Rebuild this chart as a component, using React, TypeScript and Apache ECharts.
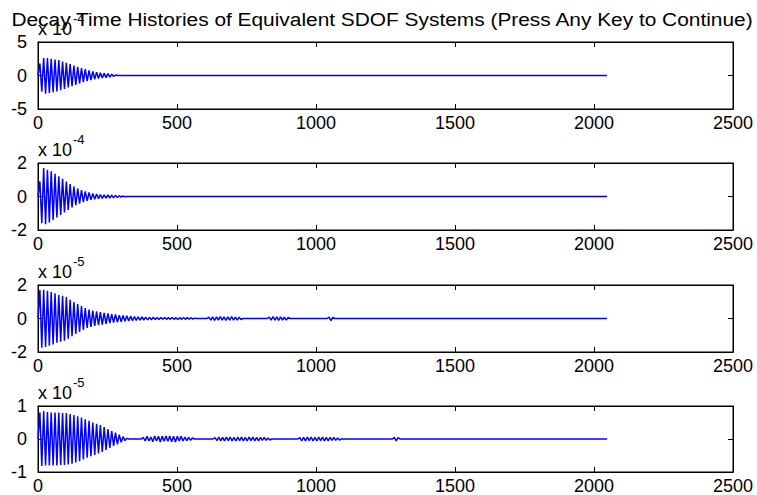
import React, { useEffect, useRef } from "react";
import * as echarts from "echarts";

const TITLE = "Decay Time Histories of Equivalent SDOF Systems (Press Any Key to Continue)";
const X_MIN = 0;
const X_MAX = 2500;
const X_STEP = 500;
const LAST_SAMPLE = 2047;
const HALF_PERIOD = 6.8; // samples between successive peaks
const yMins = [-5, -2, -2, -1];
const yMaxs = [5, 2, 2, 1];
const yIntervals = [5, 2, 2, 1];
const exponents = ["-4", "-4", "-5", "-5"];

// signed peak values (in displayed units) of the main decay of each system
const peaks1 = [0, 1.8, -2.4, 2.6, -2.7, 2.6, -2.6, 2.5, -2.5, 2.4, -2.4, 2.3, -2.2, 2.1, -2.0, 1.9, -1.8, 1.7, -1.6, 1.5, -1.4, 1.3, -1.2, 1.1, -1.0, 0.95, -0.85, 0.75, -0.7, 0.6, -0.55, 0.5, -0.45, 0.42, -0.38, 0.35, -0.32, 0.28, -0.25, 0.2, -0.15, 0.08, 0];
const peaks2 = [0, 0.9, -1.6, 1.7, -1.65, 1.6, -1.55, 1.5, -1.4, 1.35, -1.25, 1.2, -1.1, 1.05, -0.95, 0.9, -0.8, 0.75, -0.65, 0.6, -0.52, 0.48, -0.42, 0.38, -0.33, 0.3, -0.26, 0.24, -0.2, 0.18, -0.16, 0.15, -0.13, 0.12, -0.11, 0.1, -0.1, 0.09, -0.09, 0.08, -0.08, 0.07, -0.06, 0.05, -0.04, 0.03, -0.02, 0];
const peaks3 = [0, 1.7, -1.75, 1.72, -1.7, 1.65, -1.62, 1.58, -1.55, 1.5, -1.45, 1.4, -1.38, 1.35, -1.32, 1.28, -1.2, 1.12, -1.05, 0.98, -0.92, 0.86, -0.8, 0.74, -0.68, 0.62, -0.57, 0.53, -0.5, 0.47, -0.44, 0.42, -0.4, 0.38, -0.36, 0.34, -0.32, 0.3, -0.28, 0.26, -0.25, 0.24, -0.22, 0.2, -0.19, 0.18, -0.17, 0.16, -0.15, 0.14, -0.13, 0.12, -0.11, 0.1, -0.1, 0.09, -0.09, 0.08, -0.08, 0.07, -0.07, 0.07, -0.06, 0.06, -0.06, 0.06, -0.05, 0.06, -0.05, 0.05, -0.05, 0.06, -0.05, 0.05, -0.06, 0.05, -0.05, 0.06, -0.05, 0.05, -0.04, 0.04, -0.03, 0.02, 0];
const peaks4 = [0, 0.8, -0.82, 0.85, -0.8, 0.82, -0.8, 0.8, -0.8, 0.8, -0.8, 0.8, -0.79, 0.79, -0.79, 0.79, -0.77, 0.76, -0.75, 0.73, -0.71, 0.69, -0.67, 0.65, -0.62, 0.6, -0.57, 0.55, -0.52, 0.5, -0.48, 0.46, -0.44, 0.42, -0.39, 0.36, -0.33, 0.3, -0.27, 0.24, -0.21, 0.19, -0.16, 0.13, -0.1, 0.07, -0.05, 0.02, 0];

// later small bursts: start sample and signed peaks
const burst3aStart = 608;
const burst3a = [0.08, -0.1, 0.1, -0.12, 0.1, -0.1, 0.12, -0.1, 0.1, -0.12, 0.1, -0.1, 0.12, -0.1, 0.08, -0.1, 0.08, -0.06];
const burst3bStart = 825;
const burst3b = [0.08, -0.1, 0.12, -0.1, 0.1, -0.12, 0.1, -0.1, 0.08, -0.1, 0.06];
const burst3cStart = 1040;
const burst3c = [0.08, -0.12, 0.06];

const burst4aStart = 372;
const burst4a = [0.05, -0.06, 0.08, -0.06, 0.06, -0.08, 0.09, -0.06, 0.08, -0.09, 0.08, -0.07, 0.09, -0.07, 0.09, -0.08, 0.08, -0.09, 0.08, -0.06, 0.08, -0.06, 0.06, -0.05, 0.05, -0.04, 0.03];
const burst4bStart = 630;
const burst4b = [0.04, -0.05, 0.06, -0.06, 0.05, -0.06, 0.06, -0.05, 0.06, -0.06, 0.05, -0.06, 0.06, -0.05, 0.06, -0.06, 0.05, -0.06, 0.06, -0.05, 0.06, -0.06, 0.05, -0.06, 0.05, -0.04, 0.05, -0.04, 0.03, -0.03];
const burst4cStart = 935;
const burst4c = [0.04, -0.06, 0.05, -0.06, 0.06, -0.05, 0.06, -0.06, 0.05, -0.06, 0.06, -0.05, 0.06, -0.06, 0.05, -0.06, 0.05, -0.04, 0.05, -0.04, 0.03, -0.03];
const burst4dStart = 1275;
const burst4d = [0.05, -0.06, 0.04];

const mains = [peaks1, peaks2, peaks3, peaks4];
const bursts: { start: number; peaks: number[] }[][] = [
  [],
  [],
  [
    { start: burst3aStart, peaks: burst3a },
    { start: burst3bStart, peaks: burst3b },
    { start: burst3cStart, peaks: burst3c },
  ],
  [
    { start: burst4aStart, peaks: burst4a },
    { start: burst4bStart, peaks: burst4b },
    { start: burst4cStart, peaks: burst4c },
    { start: burst4dStart, peaks: burst4d },
  ],
];

function buildSeries(main: number[], bs: { start: number; peaks: number[] }[]) {
  const pts: [number, number][] = main.map((v, i) => [i * HALF_PERIOD, v]);
  bs.forEach((b) => {
    pts.push([b.start, 0]);
    b.peaks.forEach((v, i) => pts.push([b.start + (i + 1) * HALF_PERIOD, v]));
    pts.push([b.start + (b.peaks.length + 1) * HALF_PERIOD, 0]);
  });
  pts.push([LAST_SAMPLE, 0]);
  return pts;
}

const FONT = 'Arial, "Liberation Sans", sans-serif';
const GRID_LEFT = 38;
const GRID_WIDTH = 695;
const GRID_TOPS = [42, 163, 285, 406];
const GRID_HEIGHT = 67;

export default function App() {
  const ref = useRef<HTMLDivElement>(null);
  useEffect(() => {
    if (!ref.current) return;
    const chart = echarts.init(ref.current, undefined, { renderer: "svg" });
    const grids: any[] = [];
    const xAxes: any[] = [];
    const yAxes: any[] = [];
    const series: any[] = [];
    const graphic: any[] = [
      {
        type: "text",
        x: 382,
        y: 20,
        scaleX: 1.16,
        style: { text: TITLE, fontSize: 18, fontFamily: FONT, fill: "#000", align: "center", verticalAlign: "middle" },
      },
    ];
    const axisLine = { show: true, onZero: false, lineStyle: { color: "#000", width: 1 } };
    const axisTick = { show: true, inside: true, length: 5, lineStyle: { color: "#000", width: 1 } };
    const fmt = (v: number) => String(v);
    for (let i = 0; i < 4; i++) {
      grids.push({
        left: GRID_LEFT,
        top: GRID_TOPS[i],
        width: GRID_WIDTH,
        height: GRID_HEIGHT,
        show: true,
        borderColor: "#000",
        borderWidth: 1,
        backgroundColor: "#fff",
      });
      ["bottom", "top"].forEach((pos) => {
        xAxes.push({
          type: "value",
          gridIndex: i,
          position: pos,
          min: X_MIN,
          max: X_MAX,
          interval: X_STEP,
          axisLine,
          axisTick,
          splitLine: { show: false },
          axisLabel: {
            show: pos === "bottom",
            formatter: fmt,
            color: "#000",
            fontSize: 18,
            fontFamily: FONT,
            margin: 5,
            hideOverlap: false,
            showMinLabel: true,
            showMaxLabel: true,
          },
        });
      });
      ["left", "right"].forEach((pos) => {
        yAxes.push({
          type: "value",
          gridIndex: i,
          position: pos,
          min: yMins[i],
          max: yMaxs[i],
          interval: yIntervals[i],
          axisLine,
          axisTick,
          splitLine: { show: false },
          axisLabel: {
            show: pos === "left",
            formatter: fmt,
            color: "#000",
            fontSize: 18,
            fontFamily: FONT,
            margin: 11,
            hideOverlap: false,
            showMinLabel: true,
            showMaxLabel: true,
          },
        });
      });
      series.push({
        type: "line",
        xAxisIndex: 2 * i,
        yAxisIndex: 2 * i,
        data: buildSeries(mains[i], bursts[i]),
        showSymbol: false,
        symbol: "none",
        clip: true,
        lineStyle: { color: "#0000ff", width: 1.5 },
        itemStyle: { color: "#0000ff" },
      });
      graphic.push({
        type: "text",
        x: 38,
        y: GRID_TOPS[i] - 13,
        style: { text: "x 10", fontSize: 18, fontFamily: FONT, fill: "#000", align: "left", verticalAlign: "middle" },
      });
      graphic.push({
        type: "text",
        x: 73,
        y: GRID_TOPS[i] - 24,
        style: { text: exponents[i], fontSize: 13, fontFamily: FONT, fill: "#000", align: "left", verticalAlign: "middle" },
      });
    }
    chart.setOption({
      animation: false,
      backgroundColor: "#fff",
      grid: grids,
      xAxis: xAxes,
      yAxis: yAxes,
      series,
      graphic,
    });
    return () => chart.dispose();
  }, []);
  return (
    <div
      ref={ref}
      style={{ position: "absolute", left: 0, top: 0, width: 757, height: 495 }}
    />
  );
}
